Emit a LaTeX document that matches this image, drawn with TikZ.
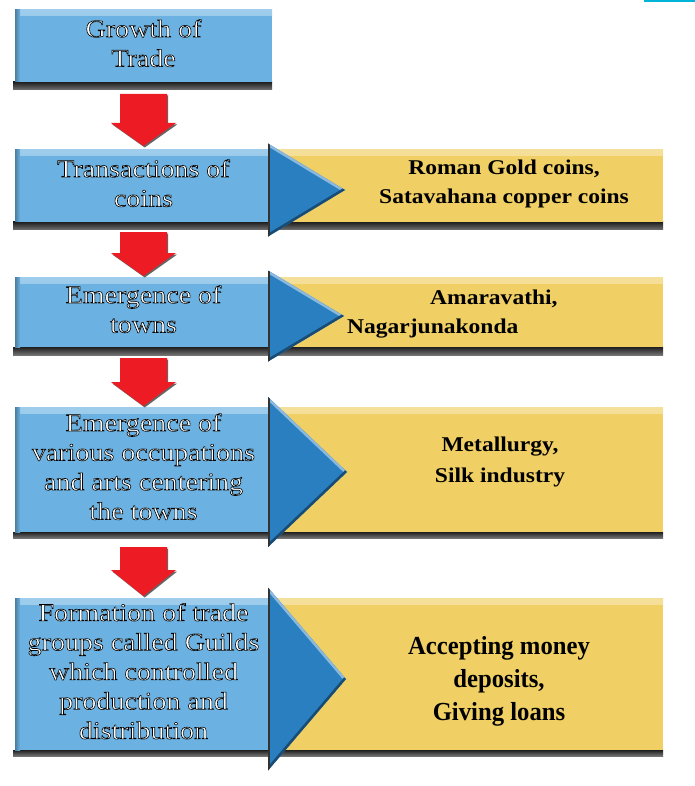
\documentclass[tikz,border=0pt]{standalone}
\usepackage{fontspec}
\setmainfont{Liberation Serif}
\newfontfamily\wideserif[FakeStretch=1.12]{Liberation Serif}
\newfontfamily\narrowserif[FakeStretch=0.95]{Liberation Serif}
\usepackage{tikz}
\usetikzlibrary{positioning,calc,shapes.geometric}

\definecolor{boxblue}{RGB}{107,178,226}
\definecolor{tipblue}{RGB}{42,127,193}
\definecolor{gold}{RGB}{240,207,100}
\definecolor{arrred}{RGB}{237,28,36}
\definecolor{topline}{RGB}{0,180,216}

% white letters with a black outline (fill and stroke)
\newcommand{\olt}[1]{%
  \special{pdf:literal direct 2 Tr 0.6 w 0 G}%
  \begin{tabular}{@{}c@{}}#1\end{tabular}%
  \special{pdf:literal direct 0 Tr}}

\tikzset{%
  bluebox/.style={%
    fill=boxblue, inner sep=0pt, outer sep=0pt, anchor=north west,
    minimum width=257pt, text=white,
    font=\wideserif\fontsize{25}{29.5}\selectfont,
    path picture={%
      \shade[top color=white!35!boxblue, bottom color=boxblue]
        (path picture bounding box.north west) rectangle
        ([yshift=-6pt]path picture bounding box.north east);
      \shade[left color=boxblue!70!black, right color=boxblue]
        (path picture bounding box.north west) rectangle
        ([xshift=5pt]path picture bounding box.south west);
    }
  },
  goldbox/.style={%
    fill=gold,
    path picture={%
      \shade[top color=white!35!gold, bottom color=gold]
        (path picture bounding box.north west) rectangle
        ([yshift=-6pt]path picture bounding box.north east);
    }
  },
  bshadow/.style={%
    top color=black!88, bottom color=black!55
  },
  tri/.style={%
    isosceles triangle, isosceles triangle stretches, anchor=apex,
    fill=tipblue, inner sep=0pt, outer sep=0pt,
    path picture={%
      \draw[white!45!tipblue, line width=5pt]
        (path picture bounding box.north west) -- (path picture bounding box.east);
      \draw[tipblue!60!black, line width=5pt]
        (path picture bounding box.south west) -- (path picture bounding box.east);
      \draw[black!80, line width=3pt]
        (path picture bounding box.north west) -- (path picture bounding box.south west);
    }
  },
  gtext/.style={%
    align=center, inner sep=0pt,
    font=\wideserif\bfseries\fontsize{21}{29}\selectfont
  },
  darr/.style={%
    fill=arrred,
    preaction={fill=black!60, transform canvas={xshift=1.2pt, yshift=-1.5pt}}
  }
}

\begin{document}
\begin{tikzpicture}[x=1pt,y=-1pt]
    \useasboundingbox (0,0) rectangle (695,786);
    \draw[topline, line width=2pt] (644,1) -- (695,1);

    % shadows under the rows
    \shade[bshadow] (13,82) rectangle (272,90);
    \shade[bshadow] (13,222) rectangle (663,230);
    \shade[bshadow] (13,347) rectangle (663,355);
    \shade[bshadow] (13,532) rectangle (663,538);
    \shade[bshadow] (13,750) rectangle (663,756);

    \fill[goldbox] (267,150) rectangle (663,222);
    \fill[goldbox] (267,277) rectangle (663,347);
    \fill[goldbox] (267,407) rectangle (663,532);
    \fill[goldbox] (267,598) rectangle (663,750);

    \node[bluebox, minimum height=72pt] (g1) at (15,10) {\olt{Growth of\\Trade}};
    \node[bluebox, minimum height=72pt] (g2) at (15,150) {\olt{Transactions of\\coins}};
    \node[bluebox, minimum height=70pt] (g3) at (15,277) {\olt{Emergence of\\towns}};
    \node[bluebox, minimum height=125pt] (g4) at (15,407)
      {\olt{Emergence of\\various occupations\\and arts centering\\the towns}};
    \node[bluebox, minimum height=152pt] (g5) at (15,598)
      {\olt{Formation of trade\\groups called Guilds\\which controlled\\production and\\distribution}};

    \node[tri, minimum height=77pt, minimum width=93pt] (t2) at (345,190) {};
    \node[tri, minimum height=76pt, minimum width=91pt] (t3) at (344,316) {};
    \node[tri, minimum height=79pt, minimum width=150pt] (t4) at (347,472) {};
    \node[tri, minimum height=78pt, minimum width=183pt] (t5) at (346,679) {};

    \node[gtext] (coins) at (504,184) {Roman Gold coins,\\Satavahana copper coins};
    \node[gtext, align=left, anchor=west] (towns) at (347,314)
      {\hspace*{83pt}Amaravathi,\\Nagarjunakonda};
    \node[gtext, font=\wideserif\bfseries\fontsize{21}{31}\selectfont] (arts) at (500,462)
      {Metallurgy,\\Silk industry};
    \node[gtext, font=\narrowserif\bfseries\fontsize{26}{33}\selectfont] (guilds) at (499,681)
      {Accepting money\\deposits,\\Giving loans};

    % red arrows between the boxes
    \fill[darr] let \p1=(g1.south), \p2=(g2.north) in
      (\x1-23.5pt,\y1-12pt) -- (\x1+23.5pt,\y1-12pt) -- (\x1+23.5pt,\y2+27pt)
      -- (\x1+32.5pt,\y2+27pt) -- (\x1,\y2+4pt) -- (\x1-32.5pt,\y2+27pt)
      -- (\x1-23.5pt,\y2+27pt) -- cycle;
    \fill[darr] let \p1=(g2.south), \p2=(g3.north) in
      (\x1-23.5pt,\y1-10pt) -- (\x1+23.5pt,\y1-10pt) -- (\x1+23.5pt,\y2+24pt)
      -- (\x1+32.5pt,\y2+24pt) -- (\x1,\y2+1pt) -- (\x1-32.5pt,\y2+24pt)
      -- (\x1-23.5pt,\y2+24pt) -- cycle;
    \fill[darr] let \p1=(g3.south), \p2=(g4.north) in
      (\x1-23.5pt,\y1-11pt) -- (\x1+23.5pt,\y1-11pt) -- (\x1+23.5pt,\y2+25pt)
      -- (\x1+32.5pt,\y2+25pt) -- (\x1,\y2+1pt) -- (\x1-32.5pt,\y2+25pt)
      -- (\x1-23.5pt,\y2+25pt) -- cycle;
    \fill[darr] let \p1=(g4.south), \p2=(g5.north) in
      (\x1-23.5pt,\y1-15pt) -- (\x1+23.5pt,\y1-15pt) -- (\x1+23.5pt,\y2+28pt)
      -- (\x1+32.5pt,\y2+28pt) -- (\x1,\y2+2pt) -- (\x1-32.5pt,\y2+28pt)
      -- (\x1-23.5pt,\y2+28pt) -- cycle;
\end{tikzpicture}
\end{document}
